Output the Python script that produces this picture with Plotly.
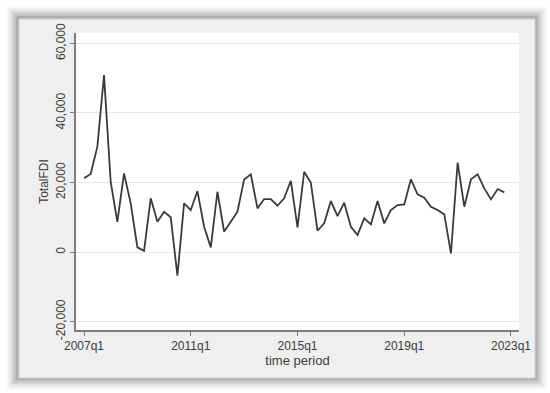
import plotly.graph_objects as go

# Stata %tq quarter numbers (quarters since 1960q1): 188 = 2007q1 ... 251 = 2022q4
quarters = list(range(188, 252))
total_fdi = [
    21200, 22450, 30300, 50900,   # 2007
    20200, 8700, 22650, 14000,    # 2008
    1350, 370, 15450, 8700,       # 2009
    11600, 10000, -6800, 14000,   # 2010
    12100, 17550, 7300, 1350,     # 2011
    17350, 5900, 8700, 11600,     # 2012
    20900, 22350, 12570, 15250,   # 2013
    15250, 13330, 15450, 20500,   # 2014
    7100, 23100, 19950, 6140,     # 2015
    8260, 14680, 10360, 14200,    # 2016
    7300, 4900, 9700, 7970,       # 2017
    14680, 8260, 12090, 13530,    # 2018
    13720, 20920, 16600, 15630,   # 2019
    13050, 12090, 10840, -380,    # 2020
    25700, 13050, 20920, 22360,   # 2021
    18330, 15160, 18130, 17180,   # 2022
]
x_tickvals = [188, 204, 220, 236, 252]
x_ticktext = ['2007q1', '2011q1', '2015q1', '2019q1', '2023q1']
y_tickvals = [-20000, 0, 20000, 40000, 60000]
y_ticktext = ['-20,000', '0', '20,000', '40,000', '60,000']

W, H = 550, 393
L, R, T, B = 76, 31, 33, 63
PW, PH = W - L - R, H - T - B


def px(x):
    return (x - L) / PW


def py(y):
    return 1 - (y - T) / PH


colors = {
    'line': '#3a3a3a',
    'axis': '#7d7d7d',
    'grid': '#e8e8e8',
    'text': '#3c3c3c',
    'frame': '#efefef',
}

fig = go.Figure()
fig.add_trace(go.Scatter(
    x=quarters,
    y=total_fdi,
    mode='lines',
    line=dict(color=colors['line'], width=1.8),
    showlegend=False,
    hoverinfo='skip',
))

# soft shadow + light grey graph region, like a pasted Stata graph
shapes = []
for i, a in enumerate([0.025, 0.035, 0.05, 0.065, 0.08, 0.1]):
    d = 12 - 2 * i
    shapes.append(dict(
        type='rect', xref='paper', yref='paper', layer='below',
        x0=px(18 - d), x1=px(535 + d), y0=py(378 + d), y1=py(18 - d),
        line=dict(width=0), fillcolor=f'rgba(0,0,0,{a})',
    ))
shapes.append(dict(
    type='rect', xref='paper', yref='paper', layer='below',
    x0=px(19), x1=px(535), y0=py(378), y1=py(19),
    line=dict(color='#d2d2d2', width=1), fillcolor=colors['frame'],
))
# white plot region on top of the grey graph region
shapes.append(dict(
    type='rect', xref='paper', yref='paper', layer='below',
    x0=0, x1=1, y0=0, y1=1,
    line=dict(width=0), fillcolor='white',
))

fig.update_layout(
    width=W,
    height=H,
    margin=dict(l=L, r=R, t=T, b=B),
    paper_bgcolor='white',
    plot_bgcolor='white',
    font=dict(family='Liberation Sans, Arial, sans-serif', size=12, color=colors['text']),
    shapes=shapes,
    xaxis=dict(
        range=[188 - 1.2, 252 + 1.2],
        tickvals=x_tickvals,
        ticktext=x_ticktext,
        showgrid=False,
        zeroline=False,
        showline=True,
        linecolor=colors['axis'],
        linewidth=1.5,
        ticks='outside',
        ticklen=4,
        tickcolor=colors['axis'],
        title=dict(text='time period', standoff=0, font=dict(size=13)),
    ),
    yaxis=dict(
        range=[-22400, 63000],
        tickvals=y_tickvals,
        ticktext=y_ticktext,
        tickangle=-90,
        showgrid=True,
        gridcolor=colors['grid'],
        gridwidth=1,
        zeroline=False,
        showline=True,
        linecolor=colors['axis'],
        linewidth=1.5,
        ticks='outside',
        ticklen=4,
        tickcolor=colors['axis'],
        title=dict(text='TotalFDI', standoff=3, font=dict(size=12)),
    ),
)

# drop the browser's default body margin so the figure sits at the page origin
fig.write_html(
    "out.html",
    config={'displayModeBar': False},
    post_script="document.body.style.margin='0';",
)
